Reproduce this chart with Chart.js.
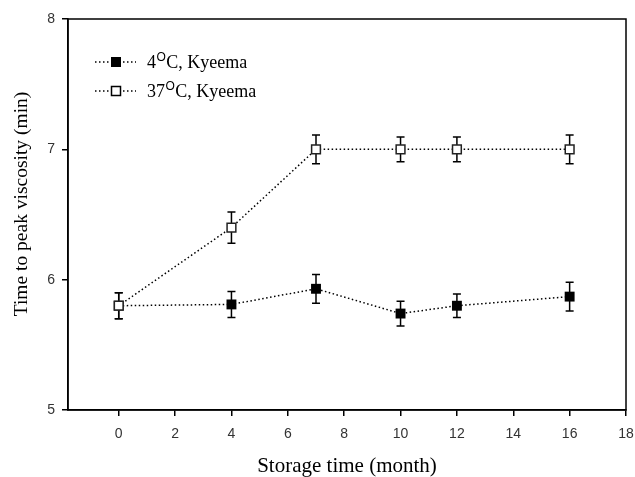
<!DOCTYPE html>
<html><head><meta charset="utf-8">
<script src="https://cdn.jsdelivr.net/npm/chart.js@4/dist/chart.umd.min.js"></script>
<style>html,body{margin:0;padding:0;background:#fff}#wrap{width:635px;height:477px}</style>
</head><body><div id="wrap"><canvas id="c" width="635" height="477"></canvas></div>
<script>
const months = [0, 4, 7, 10, 12, 16];
const cold = [5.80, 5.81, 5.93, 5.74, 5.80, 5.87];
const coldErr = [0.10, 0.10, 0.11, 0.095, 0.09, 0.11];
const hot = [5.80, 6.40, 7.00, 7.00, 7.00, 7.00];
const hotErr = [0.10, 0.12, 0.11, 0.095, 0.095, 0.11];
const xTicks = [0, 2, 4, 6, 8, 10, 12, 14, 16, 18];
const yTicks = [5, 6, 7, 8];
const legendParts = [['4', 'O', 'C, Kyeema'], ['37', 'O', 'C, Kyeema']];
const xTitle = 'Storage time (month)';
const yTitle = 'Time to peak viscosity (min)';

const SERIF = '"Liberation Serif", "Times New Roman", serif';
const SANS = '"Liberation Sans", Arial, sans-serif';

const plug = {
  id: 'extras',
  beforeDatasetsDraw(chart) {
    const {ctx, scales: {x, y}} = chart;
    ctx.save();
    ctx.strokeStyle = '#000';
    ctx.lineWidth = 1.5;
    [[cold, coldErr], [hot, hotErr]].forEach(([vals, errs]) => {
      months.forEach((m, i) => {
        const px = x.getPixelForValue(m);
        const t = y.getPixelForValue(vals[i] + errs[i]);
        const b = y.getPixelForValue(vals[i] - errs[i]);
        ctx.beginPath();
        ctx.moveTo(px, t); ctx.lineTo(px, b);
        ctx.moveTo(px - 4, t); ctx.lineTo(px + 4, t);
        ctx.moveTo(px - 4, b); ctx.lineTo(px + 4, b);
        ctx.stroke();
      });
    });
    ctx.restore();
  },
  afterDraw(chart) {
    const {ctx, chartArea: a} = chart;
    ctx.save();
    ctx.strokeStyle = '#000';
    ctx.lineWidth = 1.5;
    ctx.strokeRect(a.left, a.top, a.right - a.left, a.bottom - a.top);
    // legend
    const rows = [62, 91];
    rows.forEach((cy, i) => {
      ctx.save();
      ctx.setLineDash([1.5, 2.5]);
      ctx.lineWidth = 1.5;
      ctx.strokeStyle = '#000';
      ctx.beginPath(); ctx.moveTo(95, cy); ctx.lineTo(136, cy); ctx.stroke();
      ctx.restore();
      ctx.lineWidth = 1.5;
      if (i === 0) { ctx.fillStyle = '#000'; ctx.fillRect(111, cy - 5, 10, 10); }
      else { ctx.fillStyle = '#fff'; ctx.fillRect(111.5, cy - 4.5, 9, 9); ctx.strokeRect(111.5, cy - 4.5, 9, 9); }
      ctx.fillStyle = '#000';
      ctx.textBaseline = 'alphabetic';
      ctx.textAlign = 'left';
      const base = cy + 6;
      let tx = 147;
      const p = legendParts[i];
      ctx.font = '18px ' + SERIF;
      ctx.fillText(p[0], tx, base); tx += ctx.measureText(p[0]).width + 0.5;
      ctx.font = '12px ' + SANS;
      ctx.fillText(p[1], tx, base - 7); tx += ctx.measureText(p[1]).width + 0.5;
      ctx.font = '18px ' + SERIF;
      ctx.fillText(p[2], tx, base);
    });
    // y title
    ctx.save();
    ctx.translate(22, 204);
    ctx.rotate(-Math.PI / 2);
    ctx.font = '19.5px ' + SERIF;
    ctx.textAlign = 'center';
    ctx.textBaseline = 'middle';
    ctx.fillStyle = '#000';
    ctx.fillText(yTitle, 0, 0);
    ctx.restore();
    ctx.restore();
  }
};

new Chart(document.getElementById('c'), {
  type: 'line',
  data: {
    datasets: [
      {
        label: '37°C, Kyeema', order: 0,
        data: months.map((m, i) => ({x: m, y: hot[i]})),
        borderColor: '#000', borderWidth: 1.5, borderDash: [1.5, 2.5],
        pointStyle: 'rect', pointRadius: 6.2, pointBackgroundColor: '#fff',
        pointBorderColor: '#222', pointBorderWidth: 1.5, tension: 0, fill: false
      },
      {
        label: '4°C, Kyeema', order: 1,
        data: months.map((m, i) => ({x: m, y: cold[i]})),
        borderColor: '#000', borderWidth: 1.5, borderDash: [1.5, 2.5],
        pointStyle: 'rect', pointRadius: 7, pointBackgroundColor: '#000',
        pointBorderColor: '#000', pointBorderWidth: 0, tension: 0, fill: false
      }
    ]
  },
  options: {
    responsive: false,
    animation: false,
    devicePixelRatio: 1,
    layout: {padding: {top: 19, right: 9, left: 0, bottom: 0}},
    plugins: {legend: {display: false}, tooltip: {enabled: false}},
    scales: {
      x: {
        type: 'linear', min: -1.8, max: 18,
        afterBuildTicks: s => { s.ticks = xTicks.map(v => ({value: v})); },
        afterFit: s => { s.height = 67; s.paddingLeft = 0; s.paddingRight = 0; },
        grid: {drawOnChartArea: false, drawTicks: true, tickLength: 6, color: '#000', lineWidth: 1.5},
        border: {display: true, color: '#000', width: 1.5},
        ticks: {font: {family: SANS, size: 14}, color: '#333', padding: 10, maxRotation: 0},
        title: {display: true, text: xTitle, font: {family: SERIF, size: 21}, color: '#000', padding: {top: 0, bottom: -2}}
      },
      y: {
        type: 'linear', min: 5, max: 8,
        afterBuildTicks: s => { s.ticks = yTicks.map(v => ({value: v})); },
        afterFit: s => { s.width = 68; s.paddingTop = 0; s.paddingBottom = 0; },
        grid: {drawOnChartArea: false, drawTicks: true, tickLength: 6, color: '#000', lineWidth: 1.5},
        border: {display: true, color: '#000', width: 1.5},
        ticks: {font: {family: SANS, size: 14}, color: '#333', padding: 7}
      }
    }
  },
  plugins: [plug]
});
</script>
</body></html>
